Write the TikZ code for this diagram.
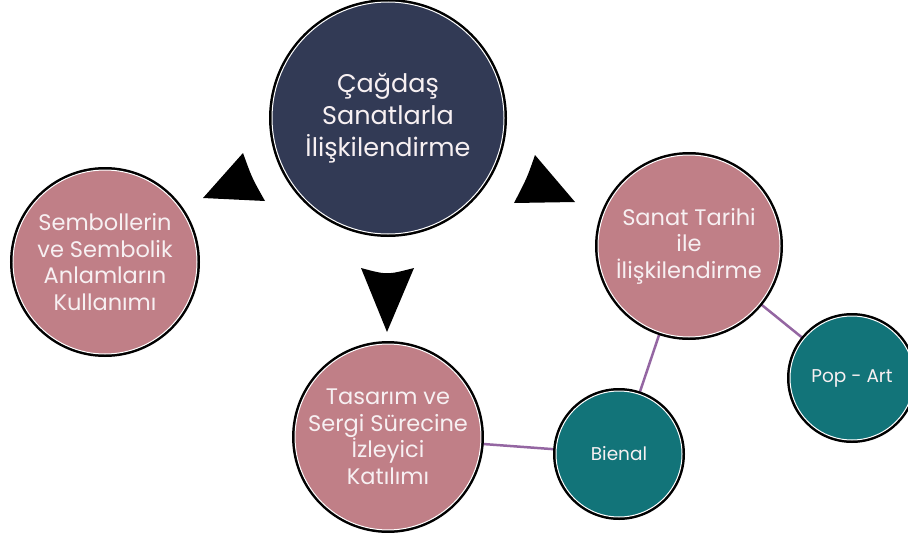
\documentclass[tikz,border=0pt]{standalone}
\usepackage{fontspec}
\setmainfont{Poppins}
\usetikzlibrary{backgrounds}
\definecolor{navy}{HTML}{323A55}
\definecolor{rose}{HTML}{C07F87}
\definecolor{tealc}{HTML}{127479}
\definecolor{linkc}{HTML}{9466A2}
\definecolor{txtc}{HTML}{F7F0F2}
\begin{document}
\begin{tikzpicture}[x=1pt,y=-1pt,
  bub/.style={circle, inner sep=0pt, outer sep=0pt, draw=white, line width=1pt,
    preaction={draw=black, line width=6pt}, text=txtc, align=center},
  bigtxt/.style={font=\fontsize{25.5}{32}\selectfont},
  midtxt/.style={font=\fontsize{22.5}{26.5}\selectfont},
  smalltxt/.style={font=\fontsize{18.5}{22}\selectfont},
  link/.style={draw=linkc, line width=2.5pt},
  tri/.style={fill=black}]
\useasboundingbox (0,0) rectangle (908,538);

\node[bub, fill=navy, minimum size=232pt, bigtxt] (main) at (388,118)
  {Çağdaş\\Sanatlarla\\İlişkilendirme};
\node[bub, fill=rose, minimum size=184pt, midtxt] (sem) at (105,262)
  {Sembollerin\\ve Sembolik\\Anlamların\\Kullanımı};
\node[bub, fill=rose, minimum size=182pt, midtxt] (tarih) at (689,246)
  {Sanat Tarihi\\ile\\İlişkilendirme};
\node[bub, fill=rose, minimum size=182pt, midtxt] (tasarim) at (388,437)
  {Tasarım ve\\Sergi Sürecine\\İzleyici\\Katılımı};
\node[bub, fill=tealc, minimum size=126pt, smalltxt] (bienal) at (619,454) {Bienal};
\node[bub, fill=tealc, minimum size=124pt, smalltxt] (pop) at (852,378) {Pop - Art};

\begin{scope}[on background layer]
  \draw[link] (tasarim) -- (bienal);
  \draw[link] (bienal) -- (tarih);
  \draw[link] (tarih) -- (pop);
\end{scope}

\fill[tri] (243,153) -- (203,198) -- (265,201) .. controls (252,178) .. (243,153) -- cycle;
\fill[tri] (361,268) -- (387,332) -- (414,268) .. controls (387,275) .. (361,268) -- cycle;
\fill[tri] (535,155) -- (575,202) -- (514,203) .. controls (527,178) .. (535,155) -- cycle;
\end{tikzpicture}
\end{document}
